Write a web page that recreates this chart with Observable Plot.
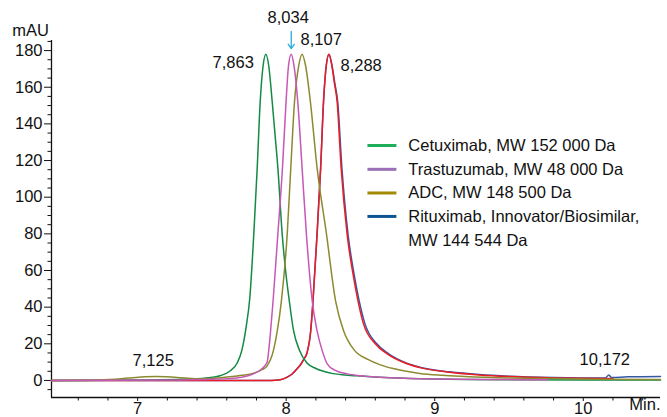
<!DOCTYPE html>
<html>
<head>
<meta charset="utf-8">
<script src="https://cdn.jsdelivr.net/npm/d3@7"></script>
<script src="https://cdn.jsdelivr.net/npm/@observablehq/plot@0.6"></script>
<style>
  html, body { margin: 0; padding: 0; background: #fff; }
  #chart { width: 667px; height: 417px; }
</style>
</head>
<body>
<div id="chart"></div>
<script>
// ---- Data ----
const cetuximabT = [6.42, 6.8, 7.1, 7.3, 7.45, 7.56, 7.62, 7.67, 7.70, 7.73, 7.755, 7.782, 7.805, 7.825, 7.845, 7.863, 7.882, 7.906, 7.925, 7.944, 7.973, 8.0, 8.02, 8.05, 8.09, 8.14, 8.2, 8.3, 8.4, 8.5, 8.7, 9.0, 9.5, 10.0, 10.52];
const cetuximabV = [0, 0.1, 0.3, 0.6, 1.2, 2.7, 5, 9.5, 16, 29, 45, 80, 116, 152, 172, 178, 172, 152, 134, 116, 80, 57, 44, 27, 16.4, 9.5, 6.5, 4, 3, 2.4, 1.5, 0.8, 0.4, 0.3, 0.3];

const trastuzumabT = [6.42, 7.3, 7.5, 7.6, 7.7, 7.78, 7.83, 7.872, 7.882, 7.894, 7.912, 7.944, 7.975, 7.999, 8.016, 8.034, 8.052, 8.078, 8.107, 8.136, 8.175, 8.208, 8.242, 8.276, 8.33, 8.41, 8.5, 8.63, 8.8, 9.0, 9.4, 9.76];
const trastuzumabV = [0, 0.3, 0.6, 1.0, 1.8, 3.6, 6, 10, 16, 26, 43.6, 80, 116, 152, 172, 178, 172, 152, 116, 80, 43.6, 27, 16.4, 9.1, 5.5, 3.6, 2.6, 1.8, 1.2, 0.8, 0.5, 0.4];

const adcT = [6.42, 6.7, 6.85, 6.95, 7.05, 7.125, 7.2, 7.3, 7.42, 7.56, 7.7, 7.78, 7.84, 7.872, 7.913, 7.94, 7.968, 8.007, 8.031, 8.056, 8.085, 8.107, 8.13, 8.163, 8.208, 8.271, 8.332, 8.387, 8.46, 8.55, 8.634, 8.72, 8.81, 8.9, 9.05, 9.2, 9.5, 9.8, 10.1, 10.52];
const adcV = [0, 0.2, 0.7, 1.3, 2.0, 2.2, 2.0, 1.5, 0.9, 1.5, 2.8, 4, 6, 8, 16, 27, 43.6, 80, 116, 152, 172, 178, 172, 152, 116, 80, 43.6, 27, 16.4, 11.5, 8.5, 6.5, 5, 3.8, 2.8, 2.2, 1.4, 1.0, 0.7, 0.5];

const rituxRedT = [6.42, 7.9, 7.96, 8.007, 8.04, 8.074, 8.1, 8.118, 8.14, 8.165, 8.181, 8.208, 8.232, 8.252, 8.27, 8.288, 8.307, 8.325, 8.343, 8.37, 8.41, 8.45, 8.482, 8.52, 8.6, 8.68, 8.8, 8.9, 9.1, 9.3, 9.5, 9.8, 10.1, 10.2];
const rituxRedV = [0, 0, 0.4, 1.8, 3.5, 6.4, 9, 11.5, 15, 27, 44, 80, 116, 153, 172, 178, 172, 162, 152, 116, 80, 58, 44, 31, 20, 14.5, 9.5, 7, 4.5, 3, 2.1, 1.4, 1.1, 1.0];

const rituxBlueT = [6.42, 7.9, 7.96, 8.007, 8.04, 8.074, 8.1, 8.118, 8.14, 8.165, 8.181, 8.208, 8.232, 8.252, 8.27, 8.288, 8.308, 8.328, 8.347, 8.375, 8.416, 8.457, 8.49, 8.53, 8.61, 8.69, 8.8, 8.9, 9.1, 9.3, 9.5, 9.8, 10.1, 10.15, 10.172, 10.19, 10.3, 10.52];
const rituxBlueV = [0, 0, 0.4, 1.8, 3.5, 6.4, 9, 11.5, 15, 27, 44, 80, 116, 153, 172, 178, 172, 162, 152, 116, 80, 58, 44, 31, 20, 14.5, 9.8, 7.2, 4.7, 3.2, 2.3, 1.6, 1.3, 1.4, 3.0, 1.6, 2.0, 2.2];

const peakTimes  = [7.863, 8.034, 8.107, 8.288, 7.125, 10.172];
const peakLabels = ["7,863", "8,034", "8,107", "8,288", "7,125", "10,172"];
const peakHeights = [178, 178, 178, 178, 2.2, 3.0];

const legendNames = ["Cetuximab, MW 152 000 Da", "Trastuzumab, MW 48 000 Da", "ADC, MW 148 500 Da", "Rituximab, Innovator/Biosimilar,", "MW 144 544 Da"];

const xMajorTicks = [7, 8, 9, 10];
const xMinorTicks = [6.6, 6.8, 7.2, 7.4, 7.6, 7.8, 8.2, 8.4, 8.6, 8.8, 9.2, 9.4, 9.6, 9.8, 10.2, 10.4];
const yMajorTicks = [0, 20, 40, 60, 80, 100, 120, 140, 160, 180];
const yMinorTicks = [-5, 5, 10, 15, 25, 30, 35, 45, 50, 55, 65, 70, 75, 85, 90, 95, 105, 110, 115, 125, 130, 135, 145, 150, 155, 165, 170, 175, 185];

// ---- Build tables ----
const toRows = (T, V) => T.map((t, i) => ({t, v: V[i]}));
const traces = [
  {rows: toRows(rituxBlueT, rituxBlueV), color: "#3558a5"},
  {rows: toRows(rituxRedT, rituxRedV), color: "#ec1c24"},
  {rows: toRows(cetuximabT, cetuximabV), color: "#138a45"},
  {rows: toRows(adcT, adcV), color: "#8c8a30"},
  {rows: toRows(trastuzumabT, trastuzumabV), color: "#c758b6"}
];
const peaks = peakTimes.map((t, i) => ({t, label: peakLabels[i], h: peakHeights[i]}));
const legendColors = ["#1fae58", "#9a70b6", "#a38a06", "#0d5592", null];

const xDomain = [6.42, 10.52];
const yDomain = [-9.3, 185.5];

// legend placement (in plot units)
const legX1 = 8.547, legX2 = 8.742, legXT = 8.822;
const legRowsY = [128.2, 115.2, 102.3, 89.5, 76.4];
const legend = legendNames.map((name, i) => ({name, color: legendColors[i], y: legRowsY[i]}));

const font = "'Liberation Sans', Arial, sans-serif";
const FS = 16.5;
const ink = "#111";
const peakLabel = (i, opts) => Plot.text([peaks[i]], {x: "t", y: "h", text: "label", fontSize: FS, fill: ink, ...opts});

const chart = Plot.plot({
  width: 667,
  height: 417,
  marginLeft: 51,
  marginRight: 7,
  marginTop: 40,
  marginBottom: 20,
  style: {fontFamily: font, fontSize: FS + "px", color: ink, background: "#fff", overflow: "visible"},
  x: {domain: xDomain},
  y: {domain: yDomain},
  marks: [
    Plot.axisY({ticks: yMajorTicks, tickSize: 7, tickPadding: 2, label: null, fontSize: FS}),
    Plot.axisY({ticks: yMinorTicks, tickSize: 3.5, tickFormat: () => "", label: null}),
    Plot.axisX({ticks: xMajorTicks, tickSize: 4, tickPadding: 1, label: null, fontSize: FS, tickFormat: d => String(d)}),
    Plot.axisX({ticks: xMinorTicks, tickSize: 3.5, tickFormat: () => "", label: null}),
    Plot.ruleX([xDomain[0]], {stroke: ink, strokeWidth: 1.3}),
    Plot.ruleY([yDomain[0]], {stroke: ink, strokeWidth: 1.3}),
    ...traces.map(tr => Plot.line(tr.rows, {x: "t", y: "v", stroke: tr.color, strokeWidth: 1.5, curve: "monotone-x"})),
    peakLabel(0, {textAnchor: "end", dx: -12, dy: 8}),
    peakLabel(1, {textAnchor: "middle", dx: -3, dy: -37}),
    peakLabel(2, {textAnchor: "start", dx: -1.5, dy: -15}),
    peakLabel(3, {textAnchor: "start", dx: 11.5, dy: 11}),
    peakLabel(4, {textAnchor: "middle", dx: -3, dy: -16}),
    peakLabel(5, {textAnchor: "middle", dx: -4, dy: -15}),
    Plot.arrow([peaks[1]], {x: "t", y1: d => d.h + 12.4, y2: d => d.h + 3.1, stroke: "#29a9e1", strokeWidth: 1.3, headLength: 6, headAngle: 70}),
    Plot.link(legend.filter(d => d.color), {x1: () => legX1, x2: () => legX2, y1: "y", y2: "y", stroke: "color", strokeWidth: 3}),
    Plot.text(legend, {x: () => legXT, y: "y", text: "name", textAnchor: "start", fontSize: FS, fill: ink}),
    Plot.text(["mAU"], {frameAnchor: "top-left", dx: -21, dy: -16, textAnchor: "middle", fontSize: FS, fill: ink}),
    Plot.text(["Min."], {frameAnchor: "bottom-right", dx: 0, dy: 12, textAnchor: "end", fontSize: FS, fill: ink})
  ]
});
document.getElementById("chart").appendChild(chart);
</script>
</body>
</html>
